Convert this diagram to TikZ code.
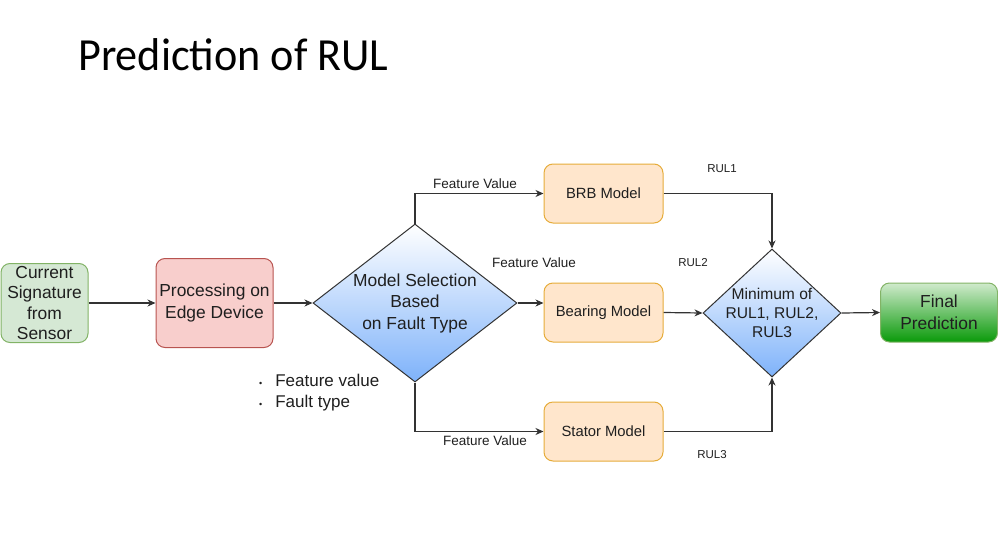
\documentclass[tikz,border=0pt]{standalone}
\usepackage{fontspec}
\setmainfont{Liberation Sans}
\newfontfamily\titlefont{Carlito}
\usepackage{tikz}
\usetikzlibrary{positioning,shapes.geometric,arrows.meta}

\definecolor{curFill}{HTML}{D5E8D4}
\definecolor{curLine}{HTML}{82B366}
\definecolor{procFill}{HTML}{F8CECC}
\definecolor{procLine}{HTML}{B85450}
\definecolor{modelFill}{HTML}{FFE6CC}
\definecolor{modelLine}{HTML}{E6AC3A}
\definecolor{diaBottom}{HTML}{7EB2FA}
\definecolor{finalTop}{HTML}{D0EACC}
\definecolor{finalBottom}{HTML}{0A9A0A}
\definecolor{lineGray}{HTML}{333333}
\definecolor{textGray}{HTML}{1F1F1F}

\begin{document}
\begin{tikzpicture}[x=1pt, y=-1pt,
    box/.style={rectangle, rounded corners=9pt, line width=1pt, inner sep=0pt, align=center, text=textGray},
    bigtext/.style={font=\fontsize{17.4}{21.5}\selectfont},
    modelbox/.style={box, fill=modelFill, draw=modelLine, minimum width=119pt, minimum height=59pt, font=\fontsize{14.8}{18}\selectfont},
    decision/.style={diamond, draw=lineGray, line width=1pt, top color=white, bottom color=diaBottom, inner sep=0pt, align=center, text=textGray},
    flow/.style={draw=lineGray, line width=1.2pt, -{Stealth[length=8pt,width=7pt,inset=2.5pt]}},
    edgelabel/.style={text=textGray, inner sep=0pt, font=\fontsize{13.5}{16}\selectfont},
    rullabel/.style={text=textGray, inner sep=0pt, font=\fontsize{11.5}{14}\selectfont}]

    \useasboundingbox (0,0) rectangle (998,533);

    % title
    \node[anchor=base west, inner sep=0pt] (title) at (78,70) {\titlefont\fontsize{46}{54}\selectfont\scalebox{0.96}[1]{Prediction of RUL}};

    % boxes
    \node[box, bigtext, fill=curFill, draw=curLine, minimum width=87pt, minimum height=79pt, font=\fontsize{17.4}{20.5}\selectfont] (current) at (44.5,303) {Current\\Signature\\from\\Sensor};
    \node[box, bigtext, fill=procFill, draw=procLine, minimum width=117pt, minimum height=89pt] (proc) at (214.5,303) {Processing on\\Edge Device};
    \node[decision, bigtext, minimum width=204pt, minimum height=158pt, aspect=1.29] (select) at (415,303) {Model Selection\\Based\\on Fault Type};

    \node[modelbox] (brb) at (603.5,193.5) {BRB Model};
    \node[modelbox] (bearing) at (603.5,312.5) {Bearing Model};
    \node[modelbox] (stator) at (603.5,431.5) {Stator Model};

    \node[decision, minimum width=138pt, minimum height=128pt, aspect=1.08, inner xsep=-7pt, font=\fontsize{15.6}{18.7}\selectfont] (minrul) at (772,313) {Minimum of\\RUL1, RUL2,\\RUL3};
    \node[box, bigtext, top color=finalTop, bottom color=finalBottom, draw=curLine, minimum width=117pt, minimum height=59pt] (final) at (939,312.5) {Final\\Prediction};

    % connectors
    \draw[flow] (current.east) -- (proc.west);
    \draw[flow] (proc.east) -- (select.west);
    \draw[flow] (select.north) |- (brb.west);
    \draw[flow] (select.east) -- (bearing.west |- select.east);
    \draw[flow] (select.south) |- (stator.west);
    \draw[flow] (brb.east) -| (minrul.north);
    \draw[flow] (bearing.east) -- (minrul.west);
    \draw[flow] (stator.east) -| (minrul.south);
    \draw[flow] (minrul.east) -- (final.west);

    % labels
    \node[edgelabel] (fv1) at (475,184) {Feature Value};
    \node[edgelabel] (fv2) at (534,263) {Feature Value};
    \node[edgelabel] (fv3) at (485,441) {Feature Value};
    \node[rullabel] (rul1) at (722,169) {RUL1};
    \node[rullabel] (rul2) at (693,263) {RUL2};
    \node[rullabel] (rul3) at (712,455) {RUL3};

    \node[anchor=west, inner sep=0pt, align=left, text=textGray, font=\fontsize{17}{21}\selectfont] (items) at (259,392.5)
        {{\fontsize{9}{9}\selectfont\textbullet}\hspace{13pt}Feature value\\{\fontsize{9}{9}\selectfont\textbullet}\hspace{13pt}Fault type};
\end{tikzpicture}
\end{document}
